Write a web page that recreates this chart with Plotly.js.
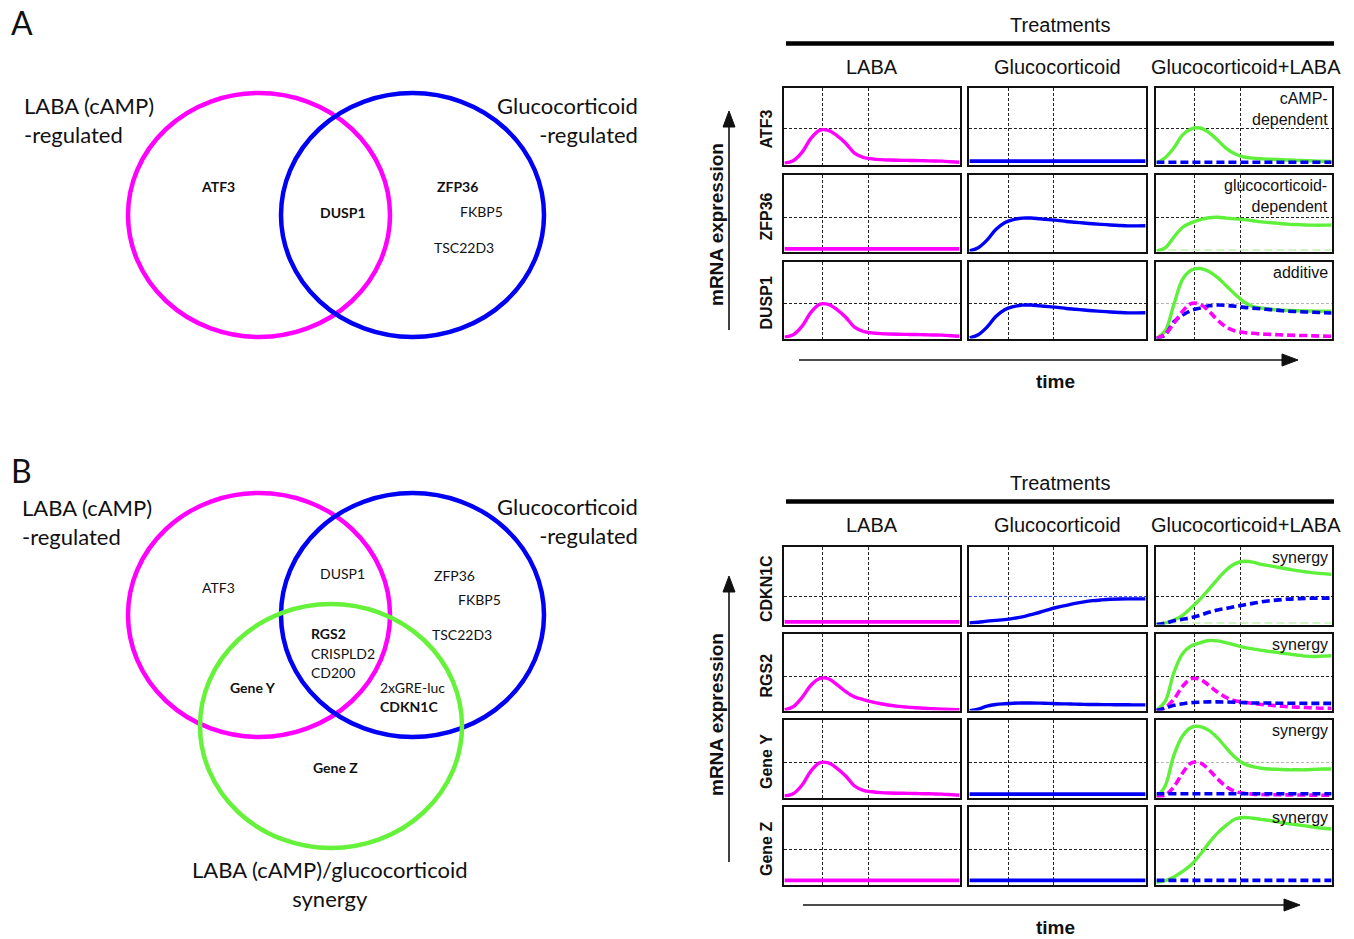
<!DOCTYPE html>
<html>
<head>
<meta charset="utf-8">
<script src="https://cdn.plot.ly/plotly-3.0.1.min.js"></script>
<style>html,body{margin:0;padding:0;background:#fff;}#chart{width:1354px;height:939px;}</style>
</head>
<body>
<div id="chart"></div>
<script>
// ---------------- DATA ----------------
const TIME = [0,0.5,1,1.5,2,2.5,3,3.5,4,4.5,5,5.5,6,6.5,7,7.5,8,8.5,9,9.5,10];
const FLAT_TIME = [0,10];

const TREATMENTS = ["LABA", "Glucocorticoid", "Glucocorticoid+LABA"];
const GENES_A = ["ATF3", "ZFP36", "DUSP1"];
const GENES_B = ["CDKN1C", "RGS2", "Gene Y", "Gene Z"];
const NOTES_A = ["cAMP-<br>dependent", "glucocorticoid-<br>dependent", "additive"];
const NOTES_B = ["synergy", "synergy", "synergy", "synergy"];
const REF_LEVEL_A = [0.47, 0.45, 0.46];
const REF_LEVEL_B = [0.36, 0.45, 0.46, 0.45];
const GRID_TIMES = [2.2, 4.8];

// schematic response curves (relative mRNA expression)
const LABA_TRANSIENT = [0.02,0.05,0.16,0.34,0.45,0.45,0.38,0.28,0.15,0.095,0.075,0.065,0.06,0.057,0.055,0.053,0.05,0.048,0.045,0.038,0.03];
const GC_SUSTAINED   = [0.01,0.05,0.15,0.29,0.38,0.42,0.44,0.44,0.43,0.42,0.41,0.395,0.385,0.375,0.365,0.357,0.35,0.343,0.338,0.338,0.34];
const LABA_FLAT = [0.035,0.035];
const GC_FLAT   = [0.045,0.045];

const ATF3_COMBO_GREEN = [0.02,0.09,0.22,0.39,0.47,0.48,0.42,0.32,0.21,0.14,0.10,0.085,0.077,0.07,0.065,0.06,0.056,0.052,0.048,0.044,0.04];
const ATF3_COMBO_BLUE  = [0.03,0.03];

const ZFP36_COMBO_GREEN = [0.01,0.05,0.19,0.32,0.38,0.42,0.445,0.45,0.44,0.43,0.42,0.405,0.39,0.38,0.37,0.36,0.355,0.35,0.347,0.347,0.35];
const ZFP36_COMBO_FAINT = [0.02,0.02];

const DUSP1_COMBO_GREEN   = [0.0,0.10,0.45,0.78,0.90,0.92,0.88,0.80,0.69,0.58,0.48,0.42,0.40,0.385,0.375,0.37,0.365,0.362,0.36,0.36,0.36];
const DUSP1_COMBO_BLUE    = [0.0,0.05,0.22,0.31,0.37,0.40,0.43,0.44,0.435,0.425,0.41,0.40,0.39,0.38,0.37,0.36,0.355,0.35,0.345,0.34,0.335];
const DUSP1_COMBO_MAGENTA = [0.0,0.06,0.20,0.36,0.46,0.45,0.36,0.24,0.15,0.10,0.08,0.07,0.06,0.055,0.05,0.045,0.042,0.04,0.036,0.033,0.03];

const CDKN1C_GC          = [0.02,0.03,0.045,0.055,0.065,0.08,0.10,0.13,0.16,0.195,0.225,0.25,0.275,0.295,0.31,0.32,0.328,0.332,0.333,0.333,0.333];
const CDKN1C_COMBO_GREEN = [0.0,0.02,0.06,0.12,0.22,0.33,0.46,0.59,0.71,0.79,0.82,0.81,0.78,0.76,0.74,0.72,0.70,0.685,0.67,0.66,0.65];
const CDKN1C_COMBO_BLUE  = [0.0,0.02,0.05,0.07,0.09,0.12,0.16,0.19,0.21,0.235,0.255,0.275,0.295,0.31,0.32,0.33,0.335,0.34,0.342,0.343,0.343];
const CDKN1C_COMBO_FAINT = [0.02,0.02];

const RGS2_LABA          = [0.01,0.05,0.17,0.33,0.42,0.42,0.34,0.25,0.18,0.145,0.115,0.09,0.07,0.055,0.045,0.037,0.03,0.025,0.02,0.015,0.012];
const RGS2_GC            = [0.0,0.02,0.06,0.08,0.09,0.097,0.10,0.10,0.098,0.095,0.09,0.088,0.085,0.082,0.08,0.079,0.078,0.077,0.076,0.075,0.075];
const RGS2_COMBO_GREEN   = [0.0,0.12,0.50,0.75,0.85,0.89,0.92,0.915,0.89,0.86,0.83,0.81,0.79,0.775,0.76,0.745,0.73,0.715,0.71,0.715,0.72];
const RGS2_COMBO_MAGENTA = [0.0,0.04,0.15,0.32,0.42,0.41,0.33,0.24,0.17,0.13,0.11,0.095,0.08,0.07,0.06,0.05,0.045,0.04,0.035,0.03,0.03];
const RGS2_COMBO_BLUE    = [0.0,0.03,0.07,0.09,0.105,0.11,0.115,0.115,0.113,0.11,0.105,0.10,0.10,0.098,0.097,0.096,0.096,0.095,0.095,0.095,0.095];

const GENEY_COMBO_GREEN   = [0.0,0.15,0.55,0.80,0.91,0.92,0.87,0.77,0.64,0.52,0.44,0.40,0.38,0.37,0.365,0.36,0.36,0.36,0.365,0.37,0.37];
const GENEY_COMBO_MAGENTA = [0.0,0.03,0.14,0.32,0.45,0.45,0.36,0.24,0.14,0.08,0.055,0.045,0.04,0.038,0.036,0.035,0.034,0.033,0.032,0.031,0.03];
const GENEY_COMBO_BLUE    = [0.05,0.05];

const GENEZ_LABA = [0.055,0.055];
const GENEZ_GC   = [0.055,0.055];
const GENEZ_COMBO_GREEN = [0.03,0.05,0.10,0.17,0.26,0.39,0.54,0.67,0.77,0.85,0.87,0.86,0.845,0.83,0.81,0.79,0.775,0.76,0.745,0.73,0.72];
const GENEZ_COMBO_BLUE  = [0.055,0.055];

// ---------------- STYLE ----------------
const MAG = '#ff00ff', BLU = '#0000f5', GRN = '#5ef03a', FAINT = '#d2f5c6';
const SANS = 'Liberation Sans, Arial, sans-serif';
const VENN = 'Lato, Open Sans, sans-serif';
const W = 1354, H = 939;
const px = x => x / W, py = y => 1 - y / H;
const FRAME = 2.4;

// outer edges of each small panel frame (pixels)
const COLS = [[782,962],[967,1148],[1154,1334]];
const ROWS_A = [[86,167],[173,254],[260,341]];
const ROWS_B = [[545,627],[632,713],[718,800],[805,887]];

function s(x, y, color, dash, width) { return {x, y, color, dash: dash || 'solid', width: width || 3.4}; }
const DASH = '8px,4px';

const PANELS_A = [
  [[s(TIME, LABA_TRANSIENT, MAG)], [s(FLAT_TIME, GC_FLAT, BLU, null, 3.8)], [s(TIME, ATF3_COMBO_GREEN, GRN), s(FLAT_TIME, ATF3_COMBO_BLUE, BLU, DASH, 3.6)]],
  [[s(FLAT_TIME, LABA_FLAT, MAG, null, 3.8)], [s(TIME, GC_SUSTAINED, BLU)], [s(FLAT_TIME, ZFP36_COMBO_FAINT, FAINT, DASH, 2), s(TIME, ZFP36_COMBO_GREEN, GRN)]],
  [[s(TIME, LABA_TRANSIENT, MAG)], [s(TIME, GC_SUSTAINED, BLU)], [s(TIME, DUSP1_COMBO_GREEN, GRN), s(TIME, DUSP1_COMBO_BLUE, BLU, DASH, 3.6), s(TIME, DUSP1_COMBO_MAGENTA, MAG, DASH, 3.6)]]
];
const PANELS_B = [
  [[s(FLAT_TIME, LABA_FLAT, MAG, null, 3.8)], [s(TIME, CDKN1C_GC, BLU)], [s(FLAT_TIME, CDKN1C_COMBO_FAINT, FAINT, DASH, 2), s(TIME, CDKN1C_COMBO_GREEN, GRN), s(TIME, CDKN1C_COMBO_BLUE, BLU, DASH, 3.6)]],
  [[s(TIME, RGS2_LABA, MAG)], [s(TIME, RGS2_GC, BLU)], [s(TIME, RGS2_COMBO_GREEN, GRN), s(TIME, RGS2_COMBO_MAGENTA, MAG, DASH, 3.6), s(TIME, RGS2_COMBO_BLUE, BLU, DASH, 3.6)]],
  [[s(TIME, LABA_TRANSIENT, MAG)], [s(FLAT_TIME, GC_FLAT, BLU, null, 3.8)], [s(TIME, GENEY_COMBO_GREEN, GRN), s(TIME, GENEY_COMBO_MAGENTA, MAG, DASH, 3.6), s(FLAT_TIME, GENEY_COMBO_BLUE, BLU, DASH, 3.6)]],
  [[s(FLAT_TIME, GENEZ_LABA, MAG, null, 3.8)], [s(FLAT_TIME, GENEZ_GC, BLU, null, 3.8)], [s(TIME, GENEZ_COMBO_GREEN, GRN), s(FLAT_TIME, GENEZ_COMBO_BLUE, BLU, DASH, 3.6)]]
];
// horizontal reference line colour overrides per panel ("row,col")
const GRID_COLOR_A = {"2,2": '#b8b8b8'};
const GRID_COLOR_B = {"0,1": '#3344ff', "2,2": '#b8b8b8'};

const traces = [];
const layout = {
  width: W, height: H, margin: {l:0, r:0, t:0, b:0},
  paper_bgcolor: '#fff', plot_bgcolor: '#fff', showlegend: false,
  shapes: [], annotations: []
};
let k = 0;
function addPanel(rowPix, colPix, series, refLevel, gridColor) {
  k++;
  const sx = k === 1 ? '' : String(k);
  const axCommon = {
    showticklabels: false, ticks: '', zeroline: false, showgrid: true,
    gridcolor: '#222', griddash: '3px,2px', gridwidth: 1,
    showline: true, mirror: true, linecolor: '#111', linewidth: FRAME, fixedrange: true
  };
  layout['xaxis' + sx] = Object.assign({}, axCommon, {
    domain: [px(colPix[0] + FRAME), px(colPix[1] - FRAME)], range: [0, 10], tickvals: GRID_TIMES, anchor: 'y' + sx
  });
  layout['yaxis' + sx] = Object.assign({}, axCommon, {
    domain: [py(rowPix[1] - FRAME), py(rowPix[0] + FRAME)], range: [0, 1], tickvals: [refLevel], anchor: 'x' + sx,
    gridcolor: gridColor || '#222'
  });
  series.forEach(d => traces.push({
    type: 'scatter', mode: 'lines', x: d.x, y: d.y, xaxis: 'x' + sx, yaxis: 'y' + sx,
    line: {color: d.color, width: d.width, dash: d.dash, shape: 'spline', smoothing: 1},
    hoverinfo: 'skip'
  }));
}
PANELS_A.forEach((row, r) => row.forEach((ser, c) => addPanel(ROWS_A[r], COLS[c], ser, REF_LEVEL_A[r], GRID_COLOR_A[r + ',' + c])));
PANELS_B.forEach((row, r) => row.forEach((ser, c) => addPanel(ROWS_B[r], COLS[c], ser, REF_LEVEL_B[r], GRID_COLOR_B[r + ',' + c])));

// ---------------- TEXT HELPERS ----------------
function txt(text, x, y, size, opts) {
  opts = opts || {};
  layout.annotations.push({
    text, x: px(x), y: py(y), xref: 'paper', yref: 'paper', showarrow: false,
    xanchor: opts.xanchor || 'center', yanchor: 'middle', align: opts.align || opts.xanchor || 'center',
    textangle: opts.angle || 0,
    font: {family: opts.family || SANS, size, color: '#111'}
  });
}
function line(x0, y0, x1, y1, color, width) {
  layout.shapes.push({type: 'line', xref: 'paper', yref: 'paper', x0: px(x0), y0: py(y0), x1: px(x1), y1: py(y1), line: {color, width}});
}
function tri(pts) {
  const d = 'M' + pts.map(p => px(p[0]) + ',' + py(p[1])).join(' L') + ' Z';
  layout.shapes.push({type: 'path', xref: 'paper', yref: 'paper', path: d, fillcolor: '#111', line: {color: '#111', width: 1}});
}
function ellipse(x0, y0, x1, y1, color) {
  layout.shapes.push({type: 'circle', xref: 'paper', yref: 'paper', x0: px(x0), y0: py(y1), x1: px(x1), y1: py(y0), line: {color, width: 4.5}});
}

// ---------------- RIGHT-SIDE DECORATIONS ----------------
function grid(rows, genes, notes, top, arrowV, arrowH, mrnaY, timeY) {
  txt('Treatments', 1060, top, 20);
  line(786, top + 18.5, 1334, top + 18.5, '#000', 4.5);
  TREATMENTS.forEach((t, c) => txt(t, (COLS[c][0] + COLS[c][1]) / 2 + (c === 2 ? 2 : 0), top + 42, 20));
  genes.forEach((g, r) => txt('<b>' + g + '</b>', 766, (rows[r][0] + rows[r][1]) / 2 + 3, 16, {angle: -90}));
  notes.forEach((n, r) => txt(n, 1330, rows[r][0] + (n.indexOf('<br>') >= 0 ? 23 : 12), 16, {xanchor: 'right'}));
  txt('<b>mRNA expression</b>', 716, mrnaY, 19, {angle: -90});
  line(729, arrowV[0], 729, arrowV[1] + 12, '#111', 1.6);
  tri([[729, arrowV[1]], [723, arrowV[1] + 16], [735, arrowV[1] + 16]]);
  line(arrowH[0], arrowH[2], arrowH[1] - 12, arrowH[2], '#111', 1.6);
  tri([[arrowH[1], arrowH[2]], [arrowH[1] - 16, arrowH[2] - 6], [arrowH[1] - 16, arrowH[2] + 6]]);
  txt('<b>time</b>', 1055, timeY, 19);
}
grid(ROWS_A, GENES_A, NOTES_A, 25, [330, 111], [799, 1298, 360], 225, 381);
grid(ROWS_B, GENES_B, NOTES_B, 483, [862, 576], [803, 1300, 905], 715, 927);

// ---------------- VENN DIAGRAMS ----------------
txt('A', 22, 22, 32, {family: VENN});
txt('B', 22, 470, 32, {family: VENN});

ellipse(128, 93, 390, 337, MAG);
ellipse(281, 93, 544, 337, BLU);
txt('LABA (cAMP)<br>-regulated', 22, 120, 22, {xanchor: 'left', family: VENN});
txt('Glucocorticoid<br>-regulated', 640, 120, 22, {xanchor: 'right', family: VENN});
txt('<b>ATF3</b>', 218, 187, 14, {family: VENN});
txt('<b>DUSP1</b>', 343, 213, 14, {family: VENN});
txt('<b>ZFP36</b>', 457, 187, 14, {family: VENN});
txt('FKBP5', 482, 211, 14, {family: VENN});
txt('TSC22D3', 464, 247, 14, {family: VENN});

ellipse(128, 493, 390, 737, MAG);
ellipse(281, 493, 544, 737, BLU);
ellipse(200, 604, 462, 848, '#66f23a');
txt('LABA (cAMP)<br>-regulated', 20, 522, 22, {xanchor: 'left', family: VENN});
txt('Glucocorticoid<br>-regulated', 640, 521, 22, {xanchor: 'right', family: VENN});
txt('ATF3', 218, 587, 14, {family: VENN});
txt('DUSP1', 342, 573, 14, {family: VENN});
txt('ZFP36', 454, 575, 14, {family: VENN});
txt('FKBP5', 479, 599, 14, {family: VENN});
txt('TSC22D3', 462, 634, 14, {family: VENN});
txt('<b>RGS2</b>', 309, 633, 14, {xanchor: 'left', family: VENN});
txt('CRISPLD2', 309, 653, 14, {xanchor: 'left', family: VENN});
txt('CD200', 309, 672, 14, {xanchor: 'left', family: VENN});
txt('<b>Gene Y</b>', 253, 687, 14, {family: VENN});
txt('2xGRE-luc', 412, 687, 14, {family: VENN});
txt('<b>CDKN1C</b>', 378, 706, 14, {xanchor: 'left', family: VENN});
txt('<b>Gene Z</b>', 335, 767, 14, {family: VENN});
txt('LABA (cAMP)/glucocorticoid<br>synergy', 330, 884, 22, {family: VENN});

Plotly.newPlot('chart', traces, layout, {staticPlot: true, displayModeBar: false});
</script>
</body>
</html>
